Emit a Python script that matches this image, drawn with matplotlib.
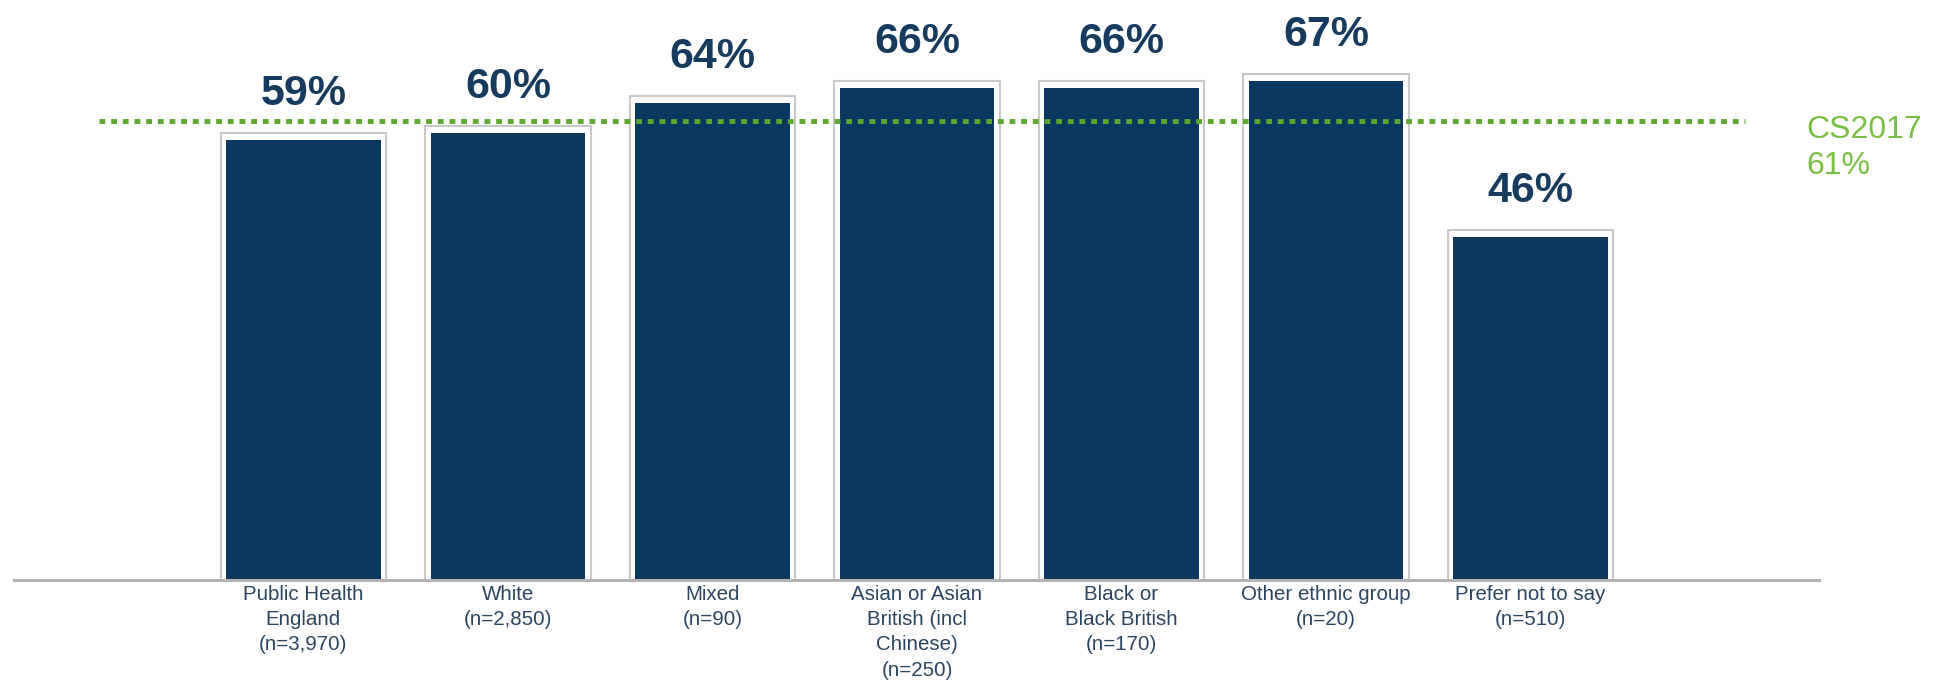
import matplotlib
matplotlib.use("Agg")
import matplotlib.pyplot as plt
import matplotlib.transforms as mtransforms

categories = ["Public Health\nEngland\n(n=3,970)", "White\n(n=2,850)", "Mixed\n(n=90)",
              "Asian or Asian\nBritish (incl\nChinese)\n(n=250)", "Black or\nBlack British\n(n=170)",
              "Other ethnic group\n(n=20)", "Prefer not to say\n(n=510)"]
values = [59, 60, 64, 66, 66, 67, 46]
benchmark_label = "CS2017"
benchmark_value = 61

navy = "#0a3861"
green_line = "#5aa82e"
green_text = "#78c043"

fig = plt.figure(figsize=(19.46, 6.80), dpi=100)
ax = fig.add_axes([14/1946, 100/680, (1819-14)/1946, 580/680])

x = list(range(len(values)))
ax.bar(x, [v + 0.9 for v in values], width=0.81, color="white", edgecolor="#c8c8c8", linewidth=1.5, zorder=2)
ax.bar(x, values, width=0.755, color=navy, zorder=3)

for xi, v in zip(x, values):
    ax.annotate(f"{v}%", (xi, v), xytext=(0, 25), textcoords="offset points",
                ha="center", va="baseline", fontsize=31, fontweight="bold",
                color="#173b5e", family="Liberation Sans")

line_tr = mtransforms.offset_copy(ax.transData, fig=fig, x=0, y=3.2, units="points")
ax.hlines(benchmark_value, -1.0, 7.05, colors=green_line, linewidth=3.5,
          linestyles=(0, (1.2, 1.2)), zorder=4, transform=line_tr)
ax.annotate(benchmark_label, (7.35, benchmark_value), xytext=(0, -9),
            textcoords="offset points", ha="left", va="baseline", fontsize=23,
            color=green_text, family="Liberation Sans", annotation_clip=False)
ax.annotate(f"{benchmark_value}%", (7.35, benchmark_value), xytext=(0, -35),
            textcoords="offset points", ha="left", va="baseline", fontsize=23,
            color=green_text, family="Liberation Sans", annotation_clip=False)

ax.set_xlim(-1.415, 7.41)
ax.set_ylim(0, 77.8)
ax.set_xticks(x)
ax.set_xticklabels(categories, fontsize=14.8, color="#2b4560", family="Liberation Sans", linespacing=1.42)
ax.tick_params(axis="x", length=0, pad=3.5)
ax.set_yticks([])
for s in ["top", "left", "right"]:
    ax.spines[s].set_visible(False)
ax.spines["bottom"].set_color("#b4b4b4")
ax.spines["bottom"].set_linewidth(2.2)
ax.spines["bottom"].set_zorder(5)

fig.savefig("out.png", dpi=100)
